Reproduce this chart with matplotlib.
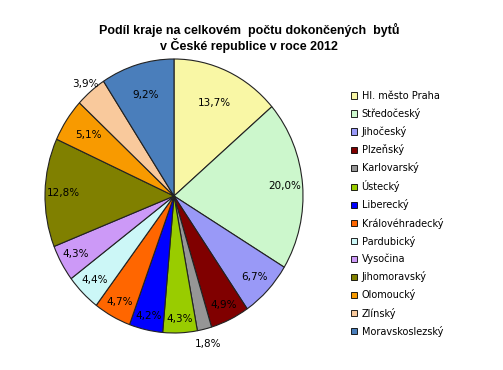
import numpy as np
import matplotlib
matplotlib.use("Agg")
import matplotlib.pyplot as plt

regions = ["Hl. město Praha", "Středočeský", "Jihočeský", "Plzeňský", "Karlovarský",
           "Ústecký", "Liberecký", "Královéhradecký", "Pardubický", "Vysočina",
           "Jihomoravský", "Olomoucký", "Zlínský", "Moravskoslezský"]
shares = [13.7, 20.0, 6.7, 4.9, 1.8, 4.3, 4.2, 4.7, 4.4, 4.3, 12.8, 5.1, 3.9, 9.2]
colors = ["#F9F7A5", "#CCF7CC", "#9999F7", "#800000", "#969696", "#99CC00", "#0000FF",
          "#FF6600", "#CCF7F7", "#CC99F7", "#808000", "#F89A00", "#F9C99C", "#4A7EBB"]
# radial position of each percentage label (Excel "best fit" placement)
label_r = [0.75, 0.86, 0.86, 0.88, 1.11, 0.90, 0.90, 0.88, 0.87, 0.87, 0.86, 0.80, 1.07, 0.77]

W, H = 503, 370
fig = plt.figure(figsize=(W / 100, H / 100), dpi=100)

# pie axes placed in pixel units (slightly elliptical like the Excel original)
cx, cy, rx, ry = 174, 196, 129, 137
ax = fig.add_axes([(cx - rx) / W, 1 - (cy + ry) / H, 2 * rx / W, 2 * ry / H])
wedges, _ = ax.pie(shares, colors=colors, startangle=90, counterclock=False,
                   wedgeprops=dict(edgecolor="#222222", linewidth=0.8))
ax.set_aspect("auto")
ax.set_xlim(-1, 1)
ax.set_ylim(-1, 1)

total = sum(shares)
cum = 0
for v, r in zip(shares, label_r):
    mid = 90 - (cum + v / 2) / total * 360
    cum += v
    x = r * np.cos(np.radians(mid))
    y = r * np.sin(np.radians(mid))
    ax.text(x, y, f"{v:.1f}".replace(".", ",") + "%", ha="center", va="center",
            fontsize=7.5, color="black")

fig.text(249 / W, 1 - 38 / H, "Podíl kraje na celkovém  počtu dokončených  bytů\nv České republice v roce 2012",
         ha="center", va="center", fontsize=9, fontweight="bold",
         family="Liberation Sans", linespacing=1.15)

leg = fig.legend(wedges, regions, loc="upper left", bbox_to_anchor=(347 / W, 1 - 87 / H),
                 frameon=False, fontsize=7, handlelength=0.65, handleheight=0.65,
                 handletextpad=0.45, labelspacing=0.73, borderaxespad=0)
for h in leg.legend_handles:
    h.set_edgecolor("black")
    h.set_linewidth(0.6)

plt.savefig("out.png", dpi=100)
